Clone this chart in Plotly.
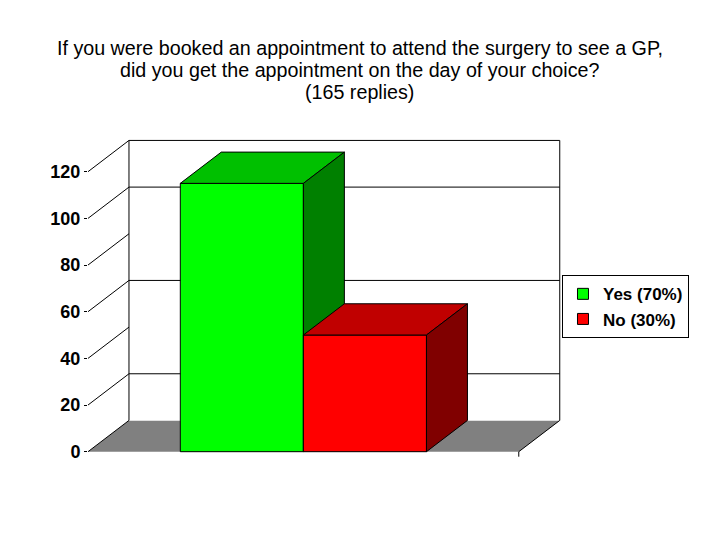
import plotly.graph_objects as go

# ---- data ----
series_names = ["Yes (70%)", "No (30%)"]
series_values = [115, 50]
front_colors = ["#00FF00", "#FF0000"]
top_colors = ["#00C000", "#C00000"]
side_colors = ["#008000", "#800000"]
tick_values = [0, 20, 40, 60, 80, 100, 120]
grid_values = [20, 60, 100]
axis_max = 120
title_lines = [
    "If you were booked an appointment to attend the surgery to see a GP,",
    "did you get the appointment on the day of your choice?",
    "(165 replies)",
]

# ---- geometry (in axis units) ----
GAP = 0.75            # half of 150% gap width, in bar widths
BAR_W = 1.0
DEPTH_X = 0.333       # 3D depth offset in x units
DEPTH_Y = 13.4        # 3D depth offset in value units
FLOOR_W = 2 * GAP + BAR_W * len(series_values)

# page pixel layout (browser body has an 8px margin)
OFF = 8
W, H = 720 - 2 * OFF, 540 - 2 * OFF
L, R = 88.3, 568.0          # page x of plot area edges
T, B = 130.0, 465.0         # page y of plot area edges
ZERO_PX = 451.7
PX_PER_UNIT_Y = (ZERO_PX - 171.7) / axis_max
X_MAX = 3.9
y_min = -(B - ZERO_PX) / PX_PER_UNIT_Y
y_max = (ZERO_PX - T) / PX_PER_UNIT_Y
TICK_DOWN = 5 / PX_PER_UNIT_Y

fig = go.Figure()


def poly(xs, ys, fill, line_color=None, lw=1):
    fig.add_trace(go.Scatter(
        x=list(xs) + [xs[0]], y=list(ys) + [ys[0]],
        mode="lines", fill="toself", fillcolor=fill,
        line=dict(color=line_color if line_color else fill, width=lw if line_color else 0),
        hoverinfo="skip", showlegend=False))


def line(xs, ys, color="black", width=1):
    fig.add_trace(go.Scatter(x=xs, y=ys, mode="lines",
                             line=dict(color=color, width=width),
                             hoverinfo="skip", showlegend=False))


# floor
poly([0, FLOOR_W, FLOOR_W + DEPTH_X, DEPTH_X], [0, 0, DEPTH_Y, DEPTH_Y], "#808080")
# back wall
poly([DEPTH_X, FLOOR_W + DEPTH_X, FLOOR_W + DEPTH_X, DEPTH_X],
     [DEPTH_Y, DEPTH_Y, axis_max + DEPTH_Y, axis_max + DEPTH_Y], "#FFFFFF")
# gridlines on back wall
for g in grid_values:
    line([DEPTH_X, FLOOR_W + DEPTH_X], [g + DEPTH_Y, g + DEPTH_Y])
# wall edges
line([DEPTH_X, DEPTH_X, FLOOR_W + DEPTH_X, FLOOR_W + DEPTH_X, FLOOR_W, FLOOR_W],
     [DEPTH_Y, axis_max + DEPTH_Y, axis_max + DEPTH_Y, DEPTH_Y, 0, -TICK_DOWN])
# slanted tick lines
for t in tick_values:
    line([0, DEPTH_X], [t, t + DEPTH_Y])

# bars
for i, v in enumerate(series_values):
    x0 = GAP + i * BAR_W
    x1 = x0 + BAR_W
    poly([x0, x1, x1, x0], [0, 0, v, v], front_colors[i], "black")
    poly([x0, x1, x1 + DEPTH_X, x0 + DEPTH_X], [v, v, v + DEPTH_Y, v + DEPTH_Y], top_colors[i], "black")
    poly([x1, x1 + DEPTH_X, x1 + DEPTH_X, x1], [0, DEPTH_Y, v + DEPTH_Y, v], side_colors[i], "black")

# legend entries
for name, c in zip(series_names, front_colors):
    fig.add_trace(go.Scatter(x=[None], y=[None], mode="markers", name=name,
                             marker=dict(symbol="square", size=11, color=c,
                                         line=dict(color="black", width=1))))

FONT = "Liberation Sans, Arial, sans-serif"

# title lines as centred text
title_y_page = [48, 70, 92]
annotations = []
for txt, yp in zip(title_lines, title_y_page):
    annotations.append(dict(text=txt, xref="paper", yref="paper",
                            x=(360 - L) / (R - L), y=1 + (T - yp) / (B - T),
                            xanchor="center", yanchor="middle", showarrow=False,
                            font=dict(size=19.7, family=FONT, color="black")))

fig.update_layout(
    width=W, height=H, autosize=False,
    margin=dict(l=L - OFF, r=W - (R - OFF), t=T - OFF, b=H - (B - OFF), pad=0),
    paper_bgcolor="white", plot_bgcolor="white",
    font=dict(family=FONT, color="black"),
    annotations=annotations,
    xaxis=dict(range=[0, X_MAX], visible=False, fixedrange=True),
    yaxis=dict(range=[y_min, y_max], tickvals=tick_values, ticks="outside", ticklen=3,
               tickcolor="black", showgrid=False, zeroline=False, showline=False,
               tickfont=dict(size=18, family=FONT, color="black", weight="bold")),
    legend=dict(x=(562 - L) / (R - L), y=1 - (275.3 - T) / (B - T), xanchor="left", yanchor="top",
                bordercolor="black", borderwidth=1, bgcolor="white",
                font=dict(size=17, family=FONT, color="black", weight="bold"),
                tracegroupgap=2),
    showlegend=True,
)

fig.write_html("out.html")
